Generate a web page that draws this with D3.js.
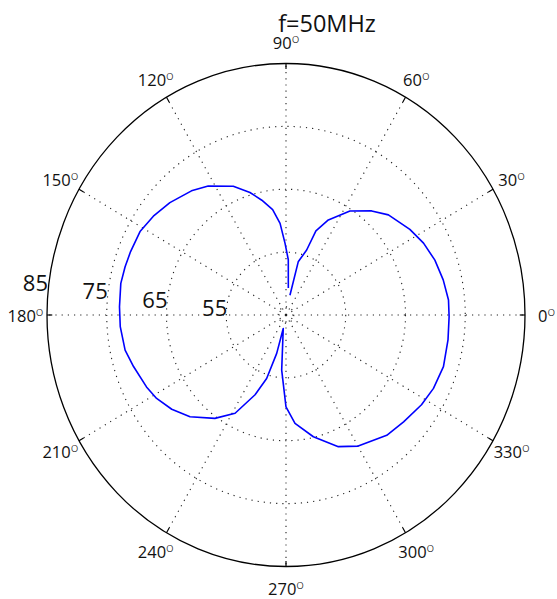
<!DOCTYPE html>
<html>
<head>
<meta charset="utf-8">
<script src="https://cdn.jsdelivr.net/npm/d3@7"></script>
<style>
  html, body { margin: 0; padding: 0; background: #fff; }
  svg { display: block; font-family: "Open Sans", "Liberation Sans", sans-serif; }
</style>
</head>
<body>
<svg id="chart" width="557" height="599"></svg>
<script>
// ---- data (angle in degrees, level in dB) ----
const titleText = "f=50MHz";
const angleTicks = [0, 30, 60, 90, 120, 150, 180, 210, 240, 270, 300, 330];
const ringValues = [46.3, 55, 65, 75];
const radialLabels = [55, 65, 75, 85];
const radialRange = [45, 85];

const patternAngles = [
  84.8, 87.5, 90.8, 93.9, 97.6, 102.5, 107.2, 113.3, 122.4, 128.7, 137.4, 144.7,
  151.5, 158.8, 164.1, 169.7, 177.3, 183.8, 191.7, 197.8, 206.1, 211.5, 218.1,
  225.2, 234.1, 241.4, 247.8, 252.2, 255.7, 257.9,
  265.3, 270.0, 275.0, 283.3, 292.7, 300.1, 311.4, 319.2, 327.8, 334.7, 342.7,
  351.7, 359.4, 365.0, 372.0, 379.3, 386.4, 393.3, 402.9, 409.1, 417.1, 424.9,
  429.5, 431.5, 436.4, 438.1
];
const patternValues = [
  49.3, 53.8, 56.4, 59.6, 61.9, 63.7, 65.4, 67.3, 69.3, 70.3, 71.4, 72.2,
  72.8, 72.9, 73.0, 73.1, 72.9, 72.8, 72.5, 71.8, 71.0, 70.4, 69.3,
  67.8, 65.3, 62.8, 58.7, 55.6, 51.3, 47.2,
  53.8, 59.6, 62.3, 64.9, 67.7, 69.1, 70.5, 71.0, 71.8, 72.3, 72.6,
  72.4, 72.3, 72.3, 71.9, 71.4, 70.7, 69.8, 68.4, 66.9, 64.7, 61.7,
  59.3, 55.9, 53.7, 48.2
];

// ---- layout ----
const svg = d3.select("#chart");
const cx = 286, cy = 315;
const rx = 239, ry = 251.5;
const r = d3.scaleLinear().domain(radialRange).range([0, 1]);
const rad = d => d * Math.PI / 180;
const px = (a, v) => cx + rx * r(v) * Math.cos(rad(a));
const py = (a, v) => cy - ry * r(v) * Math.sin(rad(a));

const g = svg.append("g");

// dotted rings
g.selectAll("ellipse.ring").data(ringValues).join("ellipse")
  .attr("class", "ring")
  .attr("cx", cx).attr("cy", cy)
  .attr("rx", d => rx * r(d)).attr("ry", d => ry * r(d))
  .attr("fill", "none").attr("stroke", "#222").attr("stroke-width", 1.1)
  .attr("stroke-dasharray", "1.2,5");

// dotted spokes
g.selectAll("line.spoke").data(angleTicks).join("line")
  .attr("class", "spoke")
  .attr("x1", cx).attr("y1", cy)
  .attr("x2", d => px(d, radialRange[1])).attr("y2", d => py(d, radialRange[1]))
  .attr("stroke", "#222").attr("stroke-width", 1.1)
  .attr("stroke-dasharray", "1.2,5");

// outer frame
g.append("ellipse")
  .attr("cx", cx).attr("cy", cy).attr("rx", rx).attr("ry", ry)
  .attr("fill", "none").attr("stroke", "#000").attr("stroke-width", 1.3);

// ticks on frame
const tickLen = 0.022;
g.selectAll("line.tick").data(angleTicks).join("line")
  .attr("class", "tick")
  .attr("x1", d => cx + rx * Math.cos(rad(d))).attr("y1", d => cy - ry * Math.sin(rad(d)))
  .attr("x2", d => cx + rx * (1 - tickLen) * Math.cos(rad(d)))
  .attr("y2", d => cy - ry * (1 - tickLen) * Math.sin(rad(d)))
  .attr("stroke", "#000").attr("stroke-width", 1.2);

// angle labels
const lab = g.selectAll("text.ang").data(angleTicks).join("text")
  .attr("class", "ang")
  .attr("x", d => cx + rx * 1.09 * Math.cos(rad(d)))
  .attr("y", d => cy - ry * 1.085 * Math.sin(rad(d)) + 7)
  .attr("text-anchor", "middle")
  .attr("font-size", 16.5).attr("fill", "#111");
lab.append("tspan").text(d => d);
lab.append("tspan").text("o").attr("font-size", 13).attr("font-weight", 300).attr("dy", -6);

// radial labels
g.selectAll("text.rlab").data(radialLabels).join("text")
  .attr("class", "rlab")
  .attr("x", d => cx - rx * r(d) + 1)
  .attr("y", d => cy + 9 - rx * r(d) * 0.137)
  .attr("text-anchor", "end")
  .attr("font-size", 22).attr("fill", "#111")
  .text(d => d);

// pattern curve
const pts = patternAngles.map((a, i) => [a, patternValues[i]]);
const line = d3.line().x(d => px(d[0], d[1])).y(d => py(d[0], d[1]));
g.append("path").datum(pts)
  .attr("d", line)
  .attr("fill", "none").attr("stroke", "#0000ff").attr("stroke-width", 1.6)
  .attr("stroke-linejoin", "round");

// title
svg.append("text")
  .attr("x", 327).attr("y", 32)
  .attr("text-anchor", "middle")
  .attr("font-size", 23.5).attr("fill", "#111")
  .text(titleText);
</script>
</body>
</html>
